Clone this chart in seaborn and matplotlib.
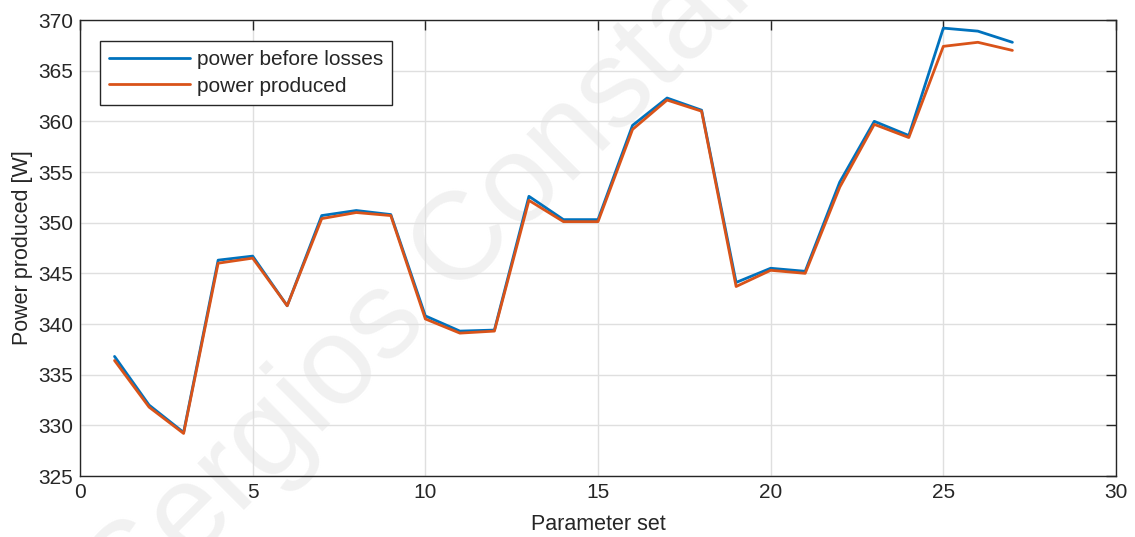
import numpy as np
import pandas as pd
import matplotlib
matplotlib.use("Agg")
import matplotlib.pyplot as plt
import seaborn as sns

param_set = list(range(1, 28))
power_before_losses = [336.8, 332.0, 329.3, 346.3, 346.7, 341.8, 350.7, 351.2, 350.8,
                       340.8, 339.3, 339.4, 352.6, 350.3, 350.3, 359.6, 362.3, 361.1,
                       344.1, 345.5, 345.2, 354.0, 360.0, 358.6, 369.2, 368.9, 367.8]
power_produced = [336.4, 331.8, 329.2, 346.0, 346.5, 341.8, 350.4, 351.0, 350.7,
                  340.5, 339.1, 339.3, 352.2, 350.1, 350.1, 359.2, 362.1, 361.0,
                  343.7, 345.3, 345.0, 353.5, 359.7, 358.4, 367.4, 367.8, 367.0]
series_names = ["power before losses", "power produced"]
x_ticks = [0, 5, 10, 15, 20, 25, 30]
y_ticks = [325, 330, 335, 340, 345, 350, 355, 360, 365, 370]
watermark = "Sergios Constantinou"

sns.set_style("white")
plt.rcParams['font.family'] = ['Liberation Sans', 'DejaVu Sans']

df = pd.DataFrame({
    "Parameter set": param_set * 2,
    "Power": power_before_losses + power_produced,
    "Series": [series_names[0]] * len(param_set) + [series_names[1]] * len(param_set),
})

fig = plt.figure(figsize=(11.35, 5.37), dpi=100)
ax = fig.add_axes([80 / 1135, 1 - 476 / 537, 1036 / 1135, 456 / 537])

# faint watermark behind everything in the axes
ax.text(0.467, 0.667, watermark, transform=fig.transFigure, fontsize=90,
        color="#f1f1f1", rotation=45, ha="center", va="center",
        zorder=0.1, clip_on=False)

sns.lineplot(data=df, x="Parameter set", y="Power", hue="Series",
             palette=["#0072BD", "#D95319"], linewidth=2, ax=ax, legend=True)

ax.set_xlim(0, 30)
ax.set_ylim(325, 370)
ax.set_xticks(x_ticks)
ax.set_yticks(y_ticks)
ax.grid(True, color="#dfdfdf", linewidth=1)
ax.set_axisbelow(True)
ax.tick_params(direction="in", length=7.5, width=1, top=True, right=True,
               labelsize=15, colors="#262626", pad=5)
for s in ax.spines.values():
    s.set_color("#262626")
    s.set_linewidth(1)
ax.set_xlabel("Parameter set", fontsize=15.5, color="#262626", labelpad=9)
ax.set_ylabel("Power produced [W]", fontsize=15.5, color="#262626", labelpad=4)

leg = ax.legend(loc="upper left", bbox_to_anchor=(0.0193, 0.954), borderaxespad=0,
                fontsize=15, frameon=True, fancybox=False, edgecolor="#262626",
                handlelength=3.85, borderpad=0.45, labelspacing=0.35, handletextpad=0.35)
leg.get_frame().set_linewidth(1)
leg.get_frame().set_alpha(1)
leg.set_title(None)

fig.savefig("out.png", dpi=100)
